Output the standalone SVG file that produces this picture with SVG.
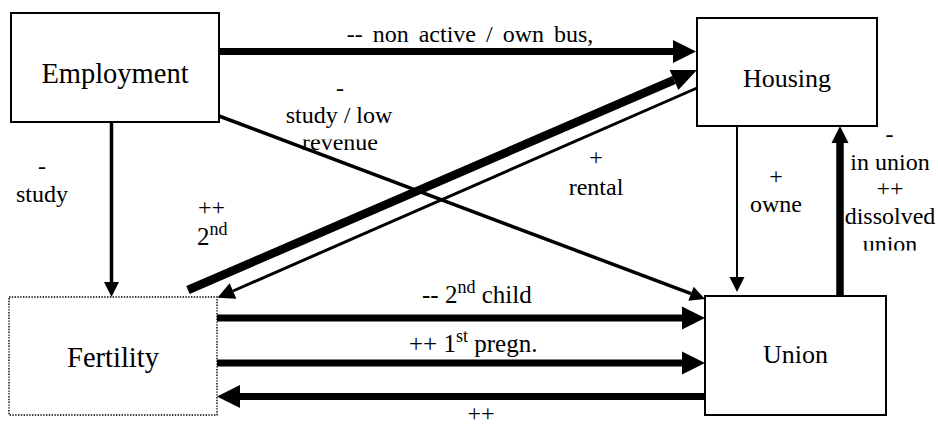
<svg xmlns="http://www.w3.org/2000/svg" width="938" height="425" viewBox="0 0 938 425">
<style>
.box{fill:#fff;stroke:#000;stroke-width:2}
.dot{fill:#fff;stroke:#000;stroke-width:1.4;stroke-dasharray:1.4 1.4}
text{font-family:'Liberation Serif','DejaVu Serif','Times New Roman',Times,serif;fill:#000}
.nt{text-anchor:middle}
.lb{font-size:24px;text-anchor:middle}
.ls{font-size:25px}
.c{fill:none;stroke:#000;stroke-linecap:butt}
</style>
<defs>
<marker id="hB" markerUnits="userSpaceOnUse" orient="auto" overflow="visible" refX="0" refY="0" markerWidth="1" markerHeight="1"><path d="M0,-11.5L23,0L0,11.5z" fill="#000"/></marker>
<marker id="hD" markerUnits="userSpaceOnUse" orient="auto" overflow="visible" refX="0" refY="0" markerWidth="1" markerHeight="1"><path d="M0,-11L25,0L0,11z" fill="#000"/></marker>
<marker id="hM" markerUnits="userSpaceOnUse" orient="auto" overflow="visible" refX="0" refY="0" markerWidth="1" markerHeight="1"><path d="M0,-8.5L17,0L0,8.5z" fill="#000"/></marker>
<marker id="hS" markerUnits="userSpaceOnUse" orient="auto" overflow="visible" refX="0" refY="0" markerWidth="1" markerHeight="1"><path d="M0,-7.5L15,0L0,7.5z" fill="#000"/></marker>
<clipPath id="clipRev"><rect x="280" y="139.5" width="120" height="20"/></clipPath>
<clipPath id="clipUn"><rect x="840" y="230" width="100" height="20.5"/></clipPath>
</defs>

<g id="employment">
<rect class="box" x="11" y="13" width="208" height="109"/>
<text class="nt" x="115" y="83" font-size="28.5" font-family="Liberation Serif, serif">Employment</text>
</g>
<g id="housing">
<rect class="box" x="697" y="18" width="180" height="108"/>
<text class="nt" x="787" y="87" font-size="26">Housing</text>
</g>
<g id="fertility">
<rect class="dot" x="9" y="297" width="208" height="118"/>
<text class="nt" x="113" y="367" font-size="28.5">Fertility</text>
</g>
<g id="union">
<rect class="box" x="705" y="296" width="181" height="119"/>
<text class="nt" x="795.5" y="363" font-size="26">Union</text>
</g>

<g id="connectors">
<line class="c" x1="219" y1="51.5" x2="673" y2="51.5" stroke-width="7" marker-end="url(#hB)"/>
<line class="c" x1="111.5" y1="122" x2="111.5" y2="282" stroke-width="3.5" marker-end="url(#hS)"/>
<line class="c" x1="219" y1="116" x2="691" y2="293.7" stroke-width="3.5" marker-end="url(#hS)"/>
<line class="c" x1="188" y1="290" x2="674" y2="80" stroke-width="8.5" marker-end="url(#hD)"/>
<line class="c" x1="697" y1="88" x2="233" y2="291" stroke-width="3" marker-end="url(#hM)"/>
<line class="c" x1="737" y1="126" x2="737" y2="277" stroke-width="2" marker-end="url(#hS)"/>
<line class="c" x1="840" y1="296" x2="840" y2="143" stroke-width="7.5" marker-end="url(#hM)"/>
<line class="c" x1="217" y1="318" x2="682" y2="318" stroke-width="7" marker-end="url(#hB)"/>
<line class="c" x1="217" y1="363" x2="682" y2="363" stroke-width="7" marker-end="url(#hB)"/>
<line class="c" x1="705" y1="396.5" x2="240" y2="396.5" stroke-width="7" marker-end="url(#hB)"/>
</g>

<g id="labels">
<text class="lb" x="470" y="42" word-spacing="4">-- non active / own bus,</text>
<text class="lb" x="340" y="96">-</text>
<text class="lb" x="339" y="123">study / low</text>
<text class="lb" x="340" y="150" clip-path="url(#clipRev)">revenue</text>
<text class="lb" x="42" y="174">-</text>
<text class="lb" x="42" y="202">study</text>
<text class="lb" x="211.5" y="215">++</text>
<text class="ls" x="197" y="245">2<tspan dy="-10" font-size="18">nd</tspan></text>
<text class="lb" x="596" y="165">+</text>
<text class="lb" x="596" y="195">rental</text>
<text class="lb" x="776" y="184">+</text>
<text class="lb" x="776" y="212">owne</text>
<text class="lb" x="889.5" y="142">-</text>
<text class="lb" x="890" y="170">in union</text>
<text class="lb" x="890" y="196">++</text>
<text class="lb" x="890" y="224">dissolved</text>
<text class="lb" x="890" y="252" clip-path="url(#clipUn)">union</text>
<text class="ls" x="422" y="303">-- 2<tspan dy="-10" font-size="18">nd</tspan><tspan dy="10"> child</tspan></text>
<text class="ls" x="409" y="352">++ 1<tspan dy="-10" font-size="18">st</tspan><tspan dy="10"> pregn.</tspan></text>
<text class="lb" x="481" y="421">++</text>
</g>
</svg>
